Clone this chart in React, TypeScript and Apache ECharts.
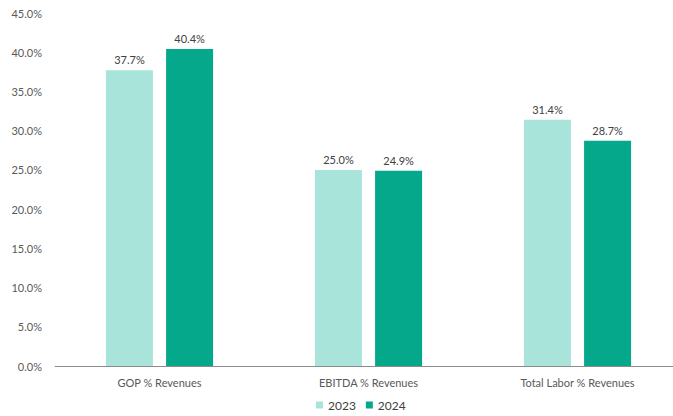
import React, { useEffect, useRef } from "react";
import * as echarts from "echarts";

const categories = ["GOP % Revenues", "EBITDA % Revenues", "Total Labor % Revenues"];
const seriesNames = ["2023", "2024"];
const values2023 = [37.7, 25.0, 31.4];
const values2024 = [40.4, 24.9, 28.7];
const colors = ["#A8E4DA", "#05A88A"];

const FONT = "Lato, 'Liberation Sans', sans-serif";

export default function App() {
  const ref = useRef<HTMLDivElement>(null);
  useEffect(() => {
    if (!ref.current) return;
    const chart = echarts.init(ref.current, null, { renderer: "svg" });
    const label = {
      show: true,
      position: "top" as const,
      distance: 5,
      color: "#404040",
      fontFamily: FONT,
      fontSize: 11,
      formatter: (p: any) => Number(p.value).toFixed(1) + "%",
    };
    chart.setOption({
      animation: false,
      textStyle: { fontFamily: FONT },
      grid: { left: 55, right: 0, top: 13, bottom: 50, containLabel: false },
      legend: {
        data: seriesNames,
        bottom: 0,
        left: 311,
        icon: "rect",
        itemWidth: 7,
        itemHeight: 7,
        itemGap: 10,
        textStyle: { color: "#404040", fontSize: 12, fontFamily: FONT },
      },
      xAxis: {
        type: "category",
        data: categories,
        axisLine: { lineStyle: { color: "#8c8c8c", width: 1 } },
        axisTick: { show: false },
        axisLabel: { color: "#595959", fontSize: 11, fontFamily: FONT, margin: 11 },
      },
      yAxis: {
        type: "value",
        min: 0,
        max: 45,
        interval: 5,
        axisLine: { show: false },
        axisTick: { show: false },
        splitLine: { show: false },
        axisLabel: {
          color: "#595959",
          fontSize: 11,
          fontFamily: FONT,
          margin: 13,
          formatter: (v: number) => v.toFixed(1) + "%",
        },
      },
      series: [
        {
          name: seriesNames[0],
          type: "bar",
          data: values2023,
          barWidth: 47,
          barGap: "28%",
          itemStyle: { color: colors[0] },
          label,
        },
        {
          name: seriesNames[1],
          type: "bar",
          data: values2024,
          barWidth: 47,
          barGap: "28%",
          itemStyle: { color: colors[1] },
          label,
        },
      ],
    });
    return () => chart.dispose();
  }, []);
  return (
    <div
      style={{ position: "fixed", left: 0, top: 0, width: 673, height: 416, overflow: "hidden", background: "#fff" }}
    >
      <div ref={ref} style={{ width: 682, height: 416 }} />
    </div>
  );
}
